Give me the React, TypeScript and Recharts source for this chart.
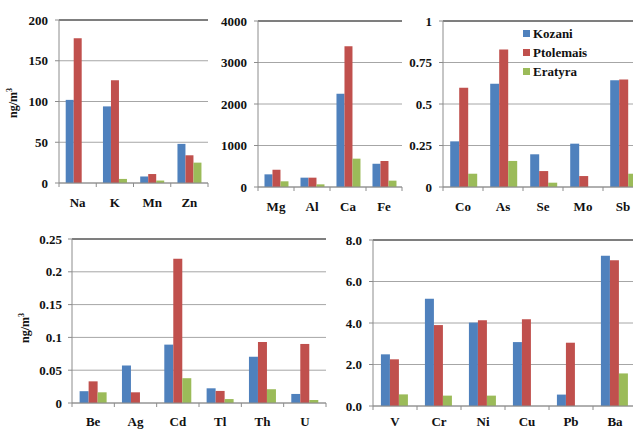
import React from "react";
import { BarChart, Bar, XAxis, YAxis, CartesianGrid, ReferenceLine, Legend } from "recharts";

const SERIES = ["Kozani", "Ptolemais", "Eratyra"];
const COLORS = ["#4F81BD", "#C0504D", "#9BBB59"];

const catsA = ["Na", "K", "Mn", "Zn"];
const kozaniA = [102, 94, 8, 48];
const ptolemaisA = [177.5, 126, 11, 34];
const eratyraA = [0, 5, 3, 25];
const ticksA = [0, 50, 100, 150, 200];

const catsB = ["Mg", "Al", "Ca", "Fe"];
const kozaniB = [305, 225, 2250, 560];
const ptolemaisB = [418, 225, 3390, 627];
const eratyraB = [137, 64, 683, 153];
const ticksB = [0, 1000, 2000, 3000, 4000];

const catsC = ["Co", "As", "Se", "Mo", "Sb"];
const kozaniC = [0.275, 0.622, 0.197, 0.261, 0.643];
const ptolemaisC = [0.598, 0.829, 0.096, 0.066, 0.647];
const eratyraC = [0.08, 0.157, 0.026, 0, 0.08];
const ticksC = [0, 0.25, 0.5, 0.75, 1];

const catsD = ["Be", "Ag", "Cd", "Tl", "Th", "U"];
const kozaniD = [0.018, 0.057, 0.089, 0.0224, 0.0704, 0.0138];
const ptolemaisD = [0.033, 0.0163, 0.22, 0.0184, 0.093, 0.09];
const eratyraD = [0.0163, 0, 0.0378, 0.006, 0.021, 0.0046];
const ticksD = [0, 0.05, 0.1, 0.15, 0.2, 0.25];

const catsE = ["V", "Cr", "Ni", "Cu", "Pb", "Ba"];
const kozaniE = [2.49, 5.17, 4.02, 3.08, 0.55, 7.24];
const ptolemaisE = [2.25, 3.9, 4.13, 4.18, 3.05, 7.02];
const eratyraE = [0.56, 0.5, 0.5, 0, 0, 1.57];
const ticksE = [0, 2, 4, 6, 8];

const FONT = "'Liberation Serif', 'Times New Roman', serif";
const AXIS_GRAY = "#8c8c8c";
const GRID_GRAY = "#a6a6a6";
const FRAME = "#2a2a2a";

const CatTick = (props: any) => {
  const { x, y, payload, index, visibleTicksCount, labelDy } = props;
  const off = payload && typeof payload.offset === "number" ? payload.offset : 0;
  return (
    <g>
      <line x1={x - off} x2={x - off} y1={y} y2={y + 4} stroke={AXIS_GRAY} />
      {index === visibleTicksCount - 1 && (
        <line x1={x + off} x2={x + off} y1={y} y2={y + 4} stroke={AXIS_GRAY} />
      )}
      <text
        x={x}
        y={y + labelDy}
        textAnchor="middle"
        fontFamily={FONT}
        fontWeight="bold"
        fontSize={13}
        fill="#111"
      >
        {payload.value}
      </text>
    </g>
  );
};

const LegendBox = () => (
  <div style={{ fontFamily: FONT, fontWeight: "bold", fontSize: 13, color: "#111" }}>
    {SERIES.map((s, i) => (
      <div key={s} style={{ display: "flex", alignItems: "center", height: 19, whiteSpace: "nowrap" }}>
        <span
          style={{
            display: "inline-block",
            width: 7,
            height: 7,
            background: COLORS[i],
            marginRight: 3,
          }}
        />
        {s}
      </div>
    ))}
  </div>
);

type PanelProps = {
  left: number;
  top: number;
  width: number;
  height: number;
  margin: { top: number; right: number; left: number; bottom: number };
  yWidth: number;
  tickMargin: number;
  labelDy: number;
  cats: string[];
  k: number[];
  p: number[];
  e: number[];
  ticks: number[];
  fmt?: (v: number) => string;
  label?: { x: number; y: number };
  legend?: { left: number; top: number };
};

function Panel(props: PanelProps) {
  const { left, top, width, height, margin, yWidth, tickMargin, labelDy, cats, k, p, e, ticks, fmt, label, legend } = props;
  const data = cats.map((c, i) => ({ name: c, Kozani: k[i], Ptolemais: p[i], Eratyra: e[i] }));
  const max = ticks[ticks.length - 1];
  return (
    <div style={{ position: "absolute", left, top }}>
      <BarChart
        width={width}
        height={height}
        data={data}
        margin={margin}
        barCategoryGap="18%"
        barGap={0}
      >
        <CartesianGrid vertical={false} stroke={GRID_GRAY} />
        <XAxis
          dataKey="name"
          height={32}
          interval={0}
          tickSize={0}
          tickMargin={0}
          tickLine={false}
          axisLine={{ stroke: AXIS_GRAY }}
          tick={(tp: any) => <CatTick {...tp} labelDy={labelDy} />}
        />
        <YAxis
          domain={[0, max]}
          ticks={ticks}
          width={yWidth}
          interval={0}
          tickSize={4}
          tickMargin={tickMargin}
          tickLine={{ stroke: AXIS_GRAY }}
          axisLine={{ stroke: AXIS_GRAY }}
          tickFormatter={fmt}
          tick={{ fontFamily: FONT, fontWeight: "bold", fontSize: 13, fill: "#111" }}
          label={
            label
              ? () => (
                  <text
                    x={label.x}
                    y={label.y}
                    transform={`rotate(-90 ${label.x} ${label.y})`}
                    textAnchor="middle"
                    fontFamily={FONT}
                    fontWeight="bold"
                    fontSize={12}
                    fill="#111"
                  >
                    ng/m
                    <tspan dy={-5} fontSize={8}>3</tspan>
                  </text>
                )
              : undefined
          }
        />
        <YAxis
          yAxisId="frame"
          orientation="right"
          width={0}
          tick={false}
          tickLine={false}
          axisLine={{ stroke: FRAME }}
        />
        <ReferenceLine y={max} stroke={FRAME} />
        {legend && (
          <Legend
            layout="vertical"
            align="center"
            verticalAlign="middle"
            wrapperStyle={{ left: legend.left, top: legend.top, width: "auto" }}
            content={() => <LegendBox />}
          />
        )}
        {SERIES.map((s, i) => (
          <Bar key={s} dataKey={s} fill={COLORS[i]} isAnimationActive={false} />
        ))}
      </BarChart>
    </div>
  );
}

export default function App() {
  return (
    <div
      style={{
        position: "absolute",
        left: 0,
        top: 0,
        width: 633,
        height: 429,
        overflow: "hidden",
        background: "#fff",
      }}
    >
      <Panel
        left={0}
        top={0}
        width={212}
        height={215}
        margin={{ top: 20, right: 4, left: 0, bottom: 0 }}
        yWidth={59}
        tickMargin={7}
        labelDy={24}
        cats={catsA}
        k={kozaniA}
        p={ptolemaisA}
        e={eratyraA}
        ticks={ticksA}
        label={{ x: 17, y: 103 }}
      />
      <Panel
        left={210}
        top={0}
        width={194}
        height={219}
        margin={{ top: 21, right: 2, left: 0, bottom: 0 }}
        yWidth={48}
        tickMargin={7}
        labelDy={24}
        cats={catsB}
        k={kozaniB}
        p={ptolemaisB}
        e={eratyraB}
        ticks={ticksB}
      />
      <Panel
        left={405}
        top={0}
        width={240}
        height={219}
        margin={{ top: 21, right: 2, left: 0, bottom: 0 }}
        yWidth={38}
        tickMargin={7}
        labelDy={24}
        cats={catsC}
        k={kozaniC}
        p={ptolemaisC}
        e={eratyraC}
        ticks={ticksC}
        legend={{ left: 118, top: 24 }}
      />
      <Panel
        left={0}
        top={215}
        width={330}
        height={220}
        margin={{ top: 24, right: 4, left: 0, bottom: 0 }}
        yWidth={72}
        tickMargin={6}
        labelDy={23}
        cats={catsD}
        k={kozaniD}
        p={ptolemaisD}
        e={eratyraD}
        ticks={ticksD}
        label={{ x: 29, y: 113 }}
      />
      <Panel
        left={330}
        top={215}
        width={307}
        height={223}
        margin={{ top: 25, right: 0, left: 0, bottom: 0 }}
        yWidth={43}
        tickMargin={7}
        labelDy={20}
        cats={catsE}
        k={kozaniE}
        p={ptolemaisE}
        e={eratyraE}
        ticks={ticksE}
        fmt={(v: number) => v.toFixed(1)}
      />
    </div>
  );
}
